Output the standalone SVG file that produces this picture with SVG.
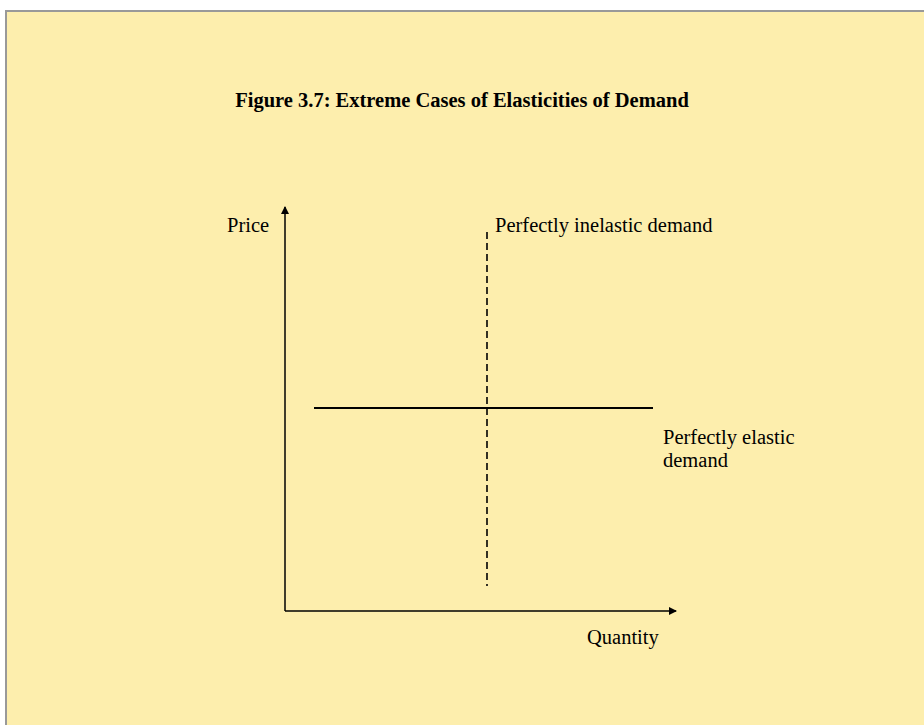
<svg xmlns="http://www.w3.org/2000/svg" width="924" height="725" viewBox="0 0 924 725">
<style>
text{font-family:"Liberation Serif","Times New Roman",serif;fill:#000}
.lbl{font-size:20.5px}
.title{font-size:20.5px;font-weight:bold}
.axis{stroke:#000;stroke-width:1.5;fill:none}
</style>
<defs>
<marker id="ah" markerWidth="8" markerHeight="8" refX="7" refY="4" orient="auto" markerUnits="userSpaceOnUse">
<path d="M0,0 L8,4 L0,8 Z" fill="#000"/>
</marker>
</defs>
<rect x="0" y="0" width="924" height="725" fill="#ffffff"/>
<rect x="6" y="11" width="930" height="730" fill="#FDEEAD" stroke="#999999" stroke-width="2"/>
<text class="title" x="462" y="107" text-anchor="middle">Figure 3.7: Extreme Cases of Elasticities of Demand</text>
<g id="connectors">
<line class="axis" x1="285" y1="611" x2="285" y2="207" marker-end="url(#ah)"/>
<line class="axis" x1="285" y1="611" x2="676" y2="611" marker-end="url(#ah)"/>
<line x1="314" y1="408" x2="653" y2="408" stroke="#000" stroke-width="2"/>
<line x1="487" y1="232" x2="487" y2="586" stroke="#000" stroke-width="1.6" stroke-dasharray="7,4"/>
</g>
<g id="price-label"><text class="lbl" x="227" y="232">Price</text></g>
<g id="inelastic-label"><text class="lbl" x="495" y="232">Perfectly inelastic demand</text></g>
<g id="elastic-label"><text class="lbl" x="663" y="444">Perfectly elastic</text><text class="lbl" x="663" y="467">demand</text></g>
<g id="quantity-label"><text class="lbl" x="587" y="644">Quantity</text></g>
</svg>
